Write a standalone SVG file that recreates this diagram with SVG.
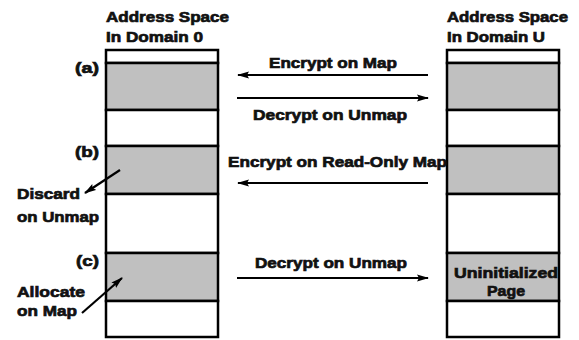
<svg xmlns="http://www.w3.org/2000/svg" width="579" height="340" viewBox="0 0 579 340">
<defs>
<style>
text{font-family:"Liberation Sans",Arial,sans-serif;font-weight:bold;font-size:15px;fill:#111;stroke:#111;stroke-width:0.7px}
.cell{stroke:#000;stroke-width:2.5}
.g{fill:#c0c0c0}
.w{fill:#fff}
.con{stroke:#000;stroke-width:2.2;fill:none}
</style>
<marker id="ah" markerWidth="12" markerHeight="8" refX="11" refY="4" orient="auto" markerUnits="userSpaceOnUse">
<path d="M0,0.5 L12,4 L0,7.5 L2,4 Z" fill="#000"/>
</marker>
</defs>
<rect width="579" height="340" fill="#fff"/>

<g id="domain0">
<text x="106" y="22" textLength="123" lengthAdjust="spacingAndGlyphs">Address Space</text>
<text x="106" y="42" textLength="97" lengthAdjust="spacingAndGlyphs">In Domain 0</text>
<rect class="cell w" x="106" y="50" width="112" height="13"/>
<rect class="cell g" x="106" y="63" width="112" height="47"/>
<rect class="cell w" x="106" y="110" width="112" height="36"/>
<rect class="cell g" x="106" y="146" width="112" height="48"/>
<rect class="cell w" x="106" y="194" width="112" height="59"/>
<rect class="cell g" x="106" y="253" width="112" height="48"/>
<rect class="cell w" x="106" y="301" width="112" height="36"/>
</g>

<g id="domainU">
<text x="447" y="22" textLength="121" lengthAdjust="spacingAndGlyphs">Address Space</text>
<text x="447" y="42" textLength="98" lengthAdjust="spacingAndGlyphs">In Domain U</text>
<rect class="cell w" x="447" y="50" width="112" height="13"/>
<rect class="cell g" x="447" y="63" width="112" height="47"/>
<rect class="cell w" x="447" y="110" width="112" height="36"/>
<rect class="cell g" x="447" y="146" width="112" height="48"/>
<rect class="cell w" x="447" y="194" width="112" height="59"/>
<rect class="cell g" x="447" y="253" width="112" height="48"/>
<rect class="cell w" x="447" y="301" width="112" height="36"/>
<text x="454" y="278" textLength="104" lengthAdjust="spacingAndGlyphs">Uninitialized</text>
<text x="487" y="296" textLength="38" lengthAdjust="spacingAndGlyphs">Page</text>
</g>

<g id="labels">
<text x="75" y="73" textLength="24" lengthAdjust="spacingAndGlyphs">(a)</text>
<text x="75" y="157" textLength="24" lengthAdjust="spacingAndGlyphs">(b)</text>
<text x="76" y="266" textLength="23" lengthAdjust="spacingAndGlyphs">(c)</text>
<text x="17" y="199" textLength="63" lengthAdjust="spacingAndGlyphs">Discard</text>
<text x="17" y="222" textLength="82" lengthAdjust="spacingAndGlyphs">on Unmap</text>
<text x="17" y="297" textLength="68" lengthAdjust="spacingAndGlyphs">Allocate</text>
<text x="17" y="316" textLength="60" lengthAdjust="spacingAndGlyphs">on Map</text>
<text x="269" y="68" textLength="128" lengthAdjust="spacingAndGlyphs">Encrypt on Map</text>
<text x="253" y="120" textLength="154" lengthAdjust="spacingAndGlyphs">Decrypt on Unmap</text>
<text x="228" y="167" textLength="219" lengthAdjust="spacingAndGlyphs">Encrypt on Read-Only Map</text>
<text x="255" y="268" textLength="152" lengthAdjust="spacingAndGlyphs">Decrypt on Unmap</text>
</g>

<g id="connectors">
<line class="con" x1="428" y1="75" x2="238" y2="75" marker-end="url(#ah)"/>
<line class="con" x1="237" y1="98" x2="428" y2="98" marker-end="url(#ah)"/>
<line class="con" x1="428" y1="183" x2="238" y2="183" marker-end="url(#ah)"/>
<line class="con" x1="237" y1="278" x2="428" y2="278" marker-end="url(#ah)"/>
<line class="con" x1="120" y1="170" x2="85" y2="193" marker-end="url(#ah)"/>
<line class="con" x1="82" y1="313" x2="122" y2="278" marker-end="url(#ah)"/>
</g>
</svg>
